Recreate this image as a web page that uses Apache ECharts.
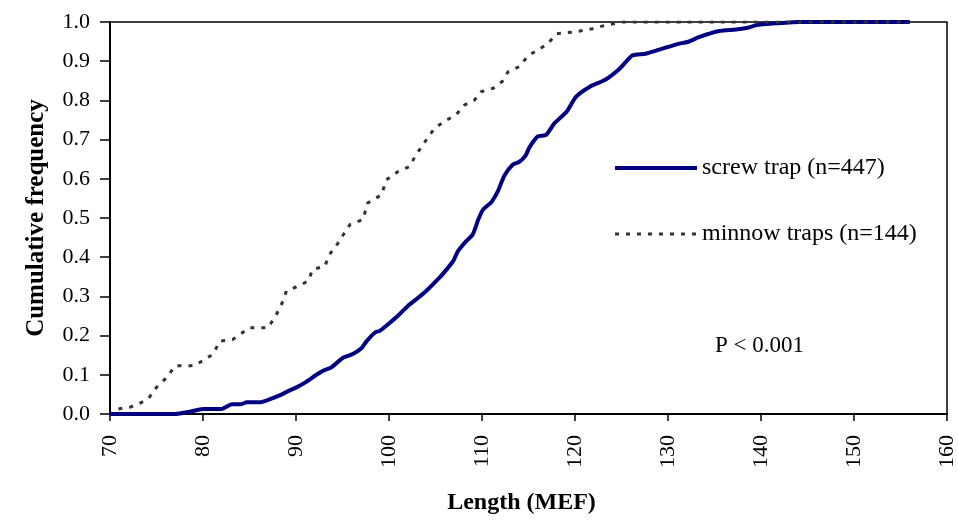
<!DOCTYPE html>
<html>
<head>
<meta charset="utf-8">
<script src="https://cdn.jsdelivr.net/npm/echarts@6/dist/echarts.min.js"></script>
<style>html,body{margin:0;padding:0;background:#fff}#c{width:958px;height:520px}</style>
</head>
<body>
<div id="c"></div>
<script>
const xTicks = [70, 80, 90, 100, 110, 120, 130, 140, 150, 160];
const yTicks = [0.0, 0.1, 0.2, 0.3, 0.4, 0.5, 0.6, 0.7, 0.8, 0.9, 1.0];

const screwName = 'screw trap (n=447)';
const screwX = [70, 77, 78.6, 80, 82, 83.1, 84.1, 84.7, 86.1, 87, 88.3, 89.2, 90.05, 91.1, 92, 92.9, 93.8, 95.1, 96.1, 97, 97.6, 98.5, 99, 100.3, 101.1, 102, 102.9, 104, 105.4, 106.2, 106.9, 107.4, 108.3, 109, 109.6, 110.1, 110.6, 111.0, 111.7, 112.4, 113.3, 114.0, 114.7, 115.1, 116, 116.9, 117.8, 119.1, 120.1, 121.6, 123.2, 124.8, 126.2, 127.6, 129.4, 131.2, 132.1, 133.4, 135.5, 137.3, 138.7, 139.5, 141.2, 144.1, 156];
const screwY = [0, 0, 0.006, 0.013, 0.013, 0.025, 0.025, 0.03, 0.03, 0.036, 0.048, 0.059, 0.068, 0.082, 0.097, 0.11, 0.119, 0.144, 0.153, 0.167, 0.186, 0.208, 0.212, 0.237, 0.254, 0.275, 0.292, 0.314, 0.347, 0.369, 0.39, 0.415, 0.441, 0.458, 0.496, 0.521, 0.532, 0.540, 0.568, 0.608, 0.636, 0.643, 0.660, 0.680, 0.708, 0.712, 0.742, 0.771, 0.809, 0.835, 0.852, 0.881, 0.915, 0.919, 0.932, 0.945, 0.949, 0.962, 0.977, 0.981, 0.986, 0.992, 0.996, 1.0, 1.0];

const minnowName = 'minnow traps (n=144)';
const minnowX = [70.9, 72.1, 73.0, 74.1, 75.0, 76.1, 77.0, 79.0, 80.0, 81.1, 81.8, 83.2, 85.0, 87.0, 87.9, 88.6, 88.97, 90.2, 91.3, 91.8, 93.1, 93.6, 94.3, 95.1, 95.8, 97.2, 97.7, 98.3, 99.2, 99.7, 101.0, 102.2, 102.9, 104.0, 104.9, 106.2, 107.2, 108.1, 109.2, 109.9, 111.2, 112.2, 112.8, 114.0, 115.0, 116.0, 117.1, 118.0, 120.1, 121.9, 123.3, 125.1, 155.9];
const minnowY = [0.013, 0.017, 0.025, 0.038, 0.068, 0.093, 0.123, 0.123, 0.136, 0.153, 0.186, 0.19, 0.22, 0.22, 0.254, 0.288, 0.314, 0.326, 0.339, 0.369, 0.377, 0.407, 0.428, 0.458, 0.483, 0.496, 0.538, 0.547, 0.559, 0.597, 0.619, 0.631, 0.661, 0.699, 0.729, 0.75, 0.763, 0.788, 0.801, 0.822, 0.831, 0.849, 0.873, 0.886, 0.915, 0.928, 0.945, 0.97, 0.975, 0.983, 0.992, 1.0, 1.0];

const pText = 'P < 0.001';
const xTitle = 'Length (MEF)';
const yTitle = 'Cumulative frequency';

const zip = (xs, ys) => xs.map((x, i) => [x, ys[i]]);
const FONT = "'Liberation Serif', 'Times New Roman', serif";

const chart = echarts.init(document.getElementById('c'));
chart.setOption({
  animation: false,
  backgroundColor: '#fff',
  grid: { left: 110, right: 10, top: 22, bottom: 105, show: true, borderColor: '#000', borderWidth: 1.5, backgroundColor: 'transparent' },
  legend: {
    orient: 'vertical',
    left: 613, top: 156, padding: 0,
    itemWidth: 82, itemHeight: 14, itemGap: 42,
    itemStyle: { opacity: 0 },
    textStyle: { fontFamily: FONT, fontSize: 24, color: '#000' },
    data: [
      { name: screwName, lineStyle: { color: '#000080', width: 4, type: 'solid' } },
      { name: minnowName, lineStyle: { color: '#333333', width: 3, type: [4, 7] } }
    ]
  },
  xAxis: {
    type: 'value', min: xTicks[0], max: xTicks[xTicks.length - 1], interval: 10,
    name: xTitle, nameLocation: 'middle', nameGap: 77,
    nameTextStyle: { fontFamily: FONT, fontSize: 24, fontWeight: 'bold', color: '#000', padding: [0, 14, 0, 0] },
    axisLine: { show: true, lineStyle: { color: '#000', width: 2 } },
    axisTick: { show: true, length: 7, lineStyle: { color: '#000', width: 1.5 } },
    axisLabel: { rotate: 90, margin: 21, fontFamily: FONT, fontSize: 22, color: '#000' },
    splitLine: { show: false }
  },
  yAxis: {
    type: 'value', min: yTicks[0], max: yTicks[yTicks.length - 1], interval: 0.1,
    name: yTitle, nameLocation: 'middle', nameGap: 61, nameRotate: 90,
    nameTextStyle: { fontFamily: FONT, fontSize: 25, fontWeight: 'bold', color: '#000' },
    axisLine: { show: true, lineStyle: { color: '#000', width: 2 } },
    axisTick: { show: true, length: 10, lineStyle: { color: '#000', width: 1.5 } },
    axisLabel: { margin: 20, fontFamily: FONT, fontSize: 22, color: '#000', formatter: v => v.toFixed(1) },
    splitLine: { show: false }
  },
  series: [
    {
      name: screwName, type: 'line', data: zip(screwX, screwY),
      symbol: 'none', smooth: 0.2, z: 2,
      lineStyle: { color: '#000080', width: 4 },
      itemStyle: { color: '#000080' }
    },
    {
      name: minnowName, type: 'line', data: zip(minnowX, minnowY),
      symbol: 'none', z: 3,
      lineStyle: { color: '#333333', width: 3, type: [4, 7] },
      itemStyle: { color: '#333333' }
    }
  ],
  graphic: [
    { type: 'text', left: 715, top: 334, style: { text: pText, fontFamily: FONT, fontSize: 23, fill: '#000' } }
  ]
});
</script>
</body>
</html>
